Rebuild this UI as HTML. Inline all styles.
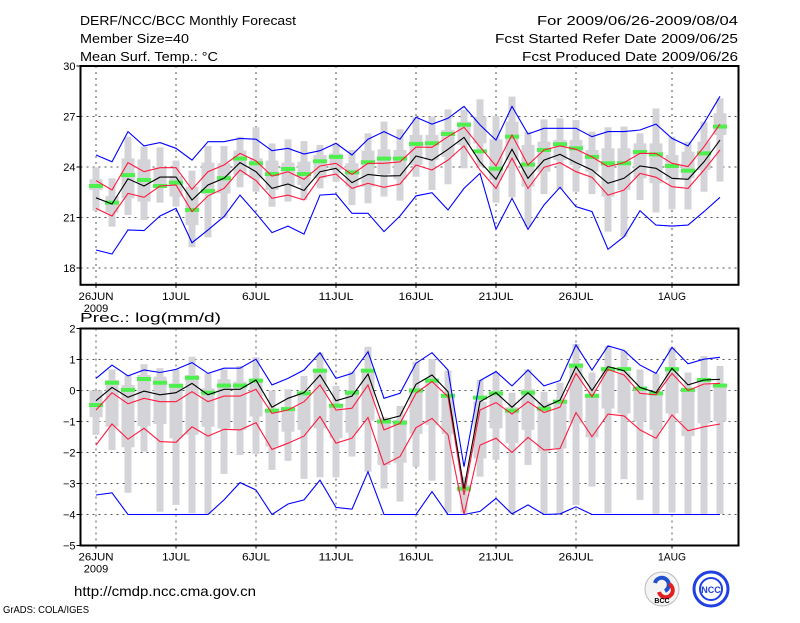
<!DOCTYPE html>
<html><head><meta charset="utf-8"><style>
html,body{margin:0;padding:0;background:#fff;}
svg text{font-family:"Liberation Sans",sans-serif;fill:#000;}
</style></head><body>
<svg id="chart" width="800" height="618" viewBox="0 0 800 618" xmlns="http://www.w3.org/2000/svg">
<rect width="800" height="618" fill="#fff"/>
<g font-size="13">
<text x="80" y="25" textLength="216" lengthAdjust="spacingAndGlyphs">DERF/NCC/BCC Monthly Forecast</text>
<text x="80" y="43" textLength="109" lengthAdjust="spacingAndGlyphs">Member Size=40</text>
<text x="80" y="61" textLength="138" lengthAdjust="spacingAndGlyphs">Mean Surf. Temp.: °C</text>
<text x="738" y="25" text-anchor="end" textLength="201" lengthAdjust="spacingAndGlyphs">For 2009/06/26-2009/08/04</text>
<text x="738" y="43" text-anchor="end" textLength="243" lengthAdjust="spacingAndGlyphs">Fcst Started Refer Date 2009/06/25</text>
<text x="738" y="61" text-anchor="end" textLength="216" lengthAdjust="spacingAndGlyphs">Fcst Produced Date 2009/06/26</text>
<text x="80" y="322" textLength="141" lengthAdjust="spacingAndGlyphs">Prec.: log(mm/d)</text>
<text x="74" y="596" font-size="14" textLength="182" lengthAdjust="spacingAndGlyphs">http://cmdp.ncc.cma.gov.cn</text>
<text x="3" y="613" font-size="10" textLength="86" lengthAdjust="spacingAndGlyphs">GrADS: COLA/IGES</text>
</g>
<g>
<circle cx="662" cy="589" r="17" fill="#f4f4f4" stroke="#bbb"/>
<path d="M655,583 a7,7 0 1 1 10,8" fill="none" stroke="#2050d0" stroke-width="4"/>
<path d="M669,584 a7,7 0 1 1 -10,8" fill="none" stroke="#e02020" stroke-width="4"/>
<text x="662" y="603" font-size="7" text-anchor="middle" font-weight="bold">BCC</text>
</g>
<g>
<circle cx="711" cy="589" r="17" fill="none" stroke="#2040e0" stroke-width="3"/>
<circle cx="711" cy="589" r="11" fill="none" stroke="#2040e0" stroke-width="2"/>
<text x="711" y="593" font-size="9" text-anchor="middle" font-weight="bold" style="fill:#2040e0">NCC</text>
</g>
<g id="plots"></g>
</svg>
<script>
// ---------- shared x data ----------
const dateLabels = ["26JUN","1JUL","6JUL","11JUL","16JUL","21JUL","26JUL","1AUG"];
const dateLabelDays = [0,5,10,15,20,25,30,36];

// ---------- temperature panel ----------
const tempTicks = [30,27,24,21,18];
const tempMean = [22.17,21.8,23.3,22.87,23.4,23.4,22.04,22.93,23.33,24.26,23.72,22.73,22.99,22.6,23.72,23.92,23.07,23.56,23.46,23.48,24.65,24.41,25.05,25.76,24.31,23.27,25.05,23.33,24.41,24.75,24.26,23.82,23.03,23.33,24.06,23.92,23.33,23.27,24.31,25.6];
const tempRedHi = [23.19,22.63,24.26,23.72,23.96,23.96,22.67,23.72,24.12,24.81,24.37,23.46,23.72,23.27,24.06,24.22,23.56,24.22,24.22,24.31,25.18,25.17,25.8,26.36,25.2,24.06,25.9,24.12,25.01,25.25,25.05,24.6,24.02,24.26,24.81,24.81,24.22,24.02,25.2,26.55];
const tempRedLo = [21.54,21.09,22.43,22.2,22.87,22.93,21.35,22.28,22.73,23.82,23.19,22.14,22.33,22.04,23.39,23.58,22.73,23.03,22.79,22.99,24.12,23.82,24.41,25.25,23.82,22.73,24.52,22.73,23.98,24.26,23.72,23.39,22.33,22.63,23.62,23.39,22.83,22.73,23.82,25.01];
const tempBlueHi = [24.71,24.31,26.1,25.25,25.45,25.11,24.41,25.5,25.5,25.7,25.65,24.97,25.11,24.77,24.97,25.41,24.71,25.65,26.1,25.65,26.95,26.55,26.89,27.6,26.5,25.6,27.6,25.96,26.3,26.3,26.3,25.8,26.1,26.1,26.2,26.55,25.7,25.25,26.6,28.2];
const tempBlueLo = [19.07,18.83,20.26,20.22,21.09,21.54,19.5,20.26,21.05,22.33,21.25,20.1,20.49,20.01,22.33,22.39,21.25,21.25,20.16,21.09,22.28,22.47,21.45,22.73,23.62,20.3,22.14,20.3,21.74,22.79,21.64,21.35,19.11,19.86,21.4,20.55,20.49,20.55,21.35,22.2];
const tempGreen = [22.87,21.88,23.52,23.23,22.87,23.07,21.45,22.57,23.33,24.5,24.22,23.58,23.88,23.58,24.34,24.6,23.68,24.28,24.5,24.5,25.37,25.41,25.96,26.51,24.93,23.9,25.8,24.14,25.01,25.35,25.11,24.6,24.22,24.22,24.89,24.75,24.06,23.78,24.81,26.4];
const tempWhiskHi = [23.98,23.33,25.8,25.21,25.17,24.38,23.78,25.25,25.25,25.8,26.36,25.4,25.64,25.54,25.31,25.4,25.01,26.0,26.69,26.24,26.95,26.99,27.42,27.39,28.02,27.03,28.18,26.1,26.83,26.89,26.79,26.1,26.36,26.4,26.0,27.48,25.8,25.5,26.69,28.08];
const tempBoxHi = [23.27,22.27,24.51,24.45,23.98,23.46,22.83,24.26,24.22,24.97,24.51,24.38,24.26,24.32,24.71,24.81,24.22,24.97,25.05,25.01,25.9,25.9,26.2,26.69,26.99,25.64,26.69,25.31,25.5,25.6,25.6,25.01,25.11,25.11,25.4,25.4,24.71,24.91,25.5,27.19];
const tempBoxLo = [22.63,21.29,22.14,21.94,22.93,22.24,20.55,22.39,22.43,23.52,23.33,22.63,22.87,22.93,23.33,23.82,22.83,22.83,23.58,23.27,24.12,24.41,24.61,25.31,25.4,23.23,24.41,22.83,23.72,24.41,24.12,23.72,22.24,22.63,23.33,23.03,23.23,23.33,23.82,25.9];
const tempWhiskLo = [21.4,20.45,21.15,20.85,21.88,21.64,19.23,19.82,20.95,22.79,22.53,21.64,21.94,22.04,22.73,23.13,21.74,21.84,22.24,22.0,23.42,22.63,22.97,23.92,24.02,21.88,22.2,20.45,22.39,22.67,22.53,22.39,20.16,19.86,22.04,21.29,21.48,21.48,22.53,23.13];

// ---------- precipitation panel ----------
const precTicks = [2,1,0,-1,-2,-3,-4,-5];
const precMean = [-0.33,0.10,-0.22,-0.02,-0.14,-0.07,0.23,-0.14,0.04,0.04,0.34,-0.54,-0.25,-0.07,0.5,-0.33,-0.18,0.53,-0.95,-0.82,0.2,0.5,-0.04,-3.16,-0.36,-0.07,-0.54,-0.07,-0.54,-0.31,0.77,0,0.77,0.64,0.1,-0.07,0.72,0.18,0.34,0.36];
const precRedHi = [-0.63,-0.07,-0.43,-0.25,-0.36,-0.36,-0.04,-0.36,-0.18,-0.18,0.04,-0.74,-0.63,-0.36,0.18,-0.63,-0.57,0.18,-1.27,-1.06,-0.09,0.29,-0.2,-3.37,-0.63,-0.39,-0.76,-0.36,-0.71,-0.54,0.55,-0.2,0.68,0.5,-0.09,-0.14,0.55,0,0.21,0.23];
const precRedLo = [-1.76,-1.08,-1.57,-1.22,-1.65,-1.67,-1.17,-1.47,-1.25,-1.27,-1.04,-1.9,-1.7,-1.47,-0.84,-1.7,-1.54,-0.87,-2.4,-2.13,-1.2,-0.9,-1.43,-4.0,-1.76,-1.54,-2.0,-1.51,-1.92,-1.87,-0.71,-1.49,-0.76,-0.82,-1.27,-1.54,-0.79,-1.3,-1.17,-1.08];
const precBlueHi = [0.39,0.82,0.47,0.66,0.58,0.68,0.9,0.55,0.72,0.72,1.01,0.18,0.39,0.66,1.22,0.39,0.55,1.25,-0.25,-0.09,0.88,1.22,0.66,-2.46,0.32,0.61,0.15,0.66,0.15,0.32,1.47,0.66,1.44,1.29,0.82,0.55,1.39,0.86,1.01,1.07];
const precBlueLo = [-3.37,-3.3,-4,-4,-4,-4,-4,-4,-3.53,-2.97,-3.21,-4,-3.66,-3.53,-2.89,-3.77,-3.83,-2.62,-4,-4,-4,-3.26,-4,-4,-3.9,-3.48,-3.98,-3.69,-4,-3.98,-3.75,-4,-4,-4,-4,-4,-4,-4,-4,-4];
const precGreen = [-0.47,0.25,0.02,0.37,0.25,0.15,0.41,-0.07,0.16,0.16,0.32,-0.65,-0.6,-0.09,0.64,-0.49,-0.07,0.64,-1.0,-1.04,0,0.32,-0.17,-3.17,-0.23,-0.09,-0.65,-0.07,-0.59,-0.36,0.8,-0.17,0.69,0.69,0.06,-0.09,0.69,0.02,0.34,0.16];
const precWhiskHi = [0,0.68,0.5,0.85,0.72,0.68,1.09,0.55,0.68,0.79,1.07,0,0.04,0.47,1.22,0.15,0.61,1.41,-0.86,-0.5,0.93,1.01,0.64,-2.78,0.34,0.58,-0.07,0.68,-0.04,0.25,1.5,0.58,1.44,1.29,0.68,0.55,1.39,0.58,1.11,0.79];
const precBoxHi = [0,0.34,0.18,0.5,0.45,0.23,0.5,0.07,0.36,0.29,0.32,-0.61,-0.54,-0.14,0.61,-0.47,-0.04,0.64,-1.0,-0.95,0.07,0.36,-0.2,-3.05,-0.36,-0.14,-0.54,0.04,-0.39,-0.36,0.88,-0.14,0.75,0.58,0.07,-0.14,0.66,-0.04,0.34,0.18];
const precBoxLo = [-0.86,-1.17,-1.83,-1.15,-1.08,-1.54,-1.43,-1.17,-1.22,-1.27,-0.84,-1.81,-1.33,-1.27,-1.22,-1.54,-1.36,-0.97,-2.4,-2.33,-1.4,-1.11,-1.4,-3.27,-2.19,-1.22,-1.7,-1.27,-1.97,-1.87,-1.06,-1.51,-0.58,-0.74,-1.0,-1.27,-0.74,-1.47,-1.06,-1.0];
const precWhiskLo = [-1.43,-1.92,-3.3,-1.97,-3.91,-3.69,-3.96,-4.0,-2.69,-2.08,-2.05,-2.56,-2.27,-2.85,-2.8,-2.8,-2.13,-2.62,-3.16,-3.58,-2.46,-2.91,-3.94,-3.94,-2.78,-2.24,-3.96,-2.4,-3.98,-3.98,-3.69,-3.1,-3.96,-2.86,-3.53,-3.98,-3.94,-3.98,-3.98,-3.98];

const NS = "http://www.w3.org/2000/svg";
const plots = document.getElementById('plots');
const X0 = 80.5, X1 = 738.5;
function xDay(i){ return 96 + 16*i; }
function mk(tag, attrs, parent){
  const e = document.createElementNS(NS, tag);
  for (const k in attrs) e.setAttribute(k, attrs[k]);
  parent.appendChild(e);
  return e;
}

function panel(cfg){
  const g = mk('g', {}, plots);
  
  
  const y = v => cfg.top + (cfg.vmax - v) * (cfg.bottom - cfg.top) / (cfg.vmax - cfg.vmin);
  const clipId = cfg.name + '-clip';
  const cp = mk('clipPath', {id: clipId}, g);
  mk('rect', {x: X0, y: cfg.top, width: X1 - X0, height: cfg.bottom - cfg.top}, cp);
  const inner = mk('g', {'clip-path': 'url(#' + clipId + ')'}, g);
  // grid
  cfg.ticks.forEach(t => {
    if (t === cfg.vmax || t === cfg.vmin) return;
    const l = mk('line', {x1: X0, x2: X1, y1: y(t), y2: y(t), stroke: '#555', 'stroke-width': 1, 'stroke-dasharray': '2,4'}, inner);
    
    
  });
  dateLabelDays.forEach(d => {
    const l = mk('line', {x1: xDay(d), x2: xDay(d), y1: cfg.top, y2: cfg.bottom, stroke: '#555', 'stroke-width': 1, 'stroke-dasharray': '2,4'}, inner);
    
    
  });
  // bars
  for (let i = 0; i < cfg.mean.length; i++) {
    const x = xDay(i);
    const w = mk('rect', {x: x - 3.5, width: 7, y: y(cfg.wHi[i]), height: Math.max(0, y(cfg.wLo[i]) - y(cfg.wHi[i])), fill: '#d4d4d8'}, inner);
    
    
    const b = mk('rect', {x: x - 6.5, width: 13, y: y(cfg.bHi[i]), height: Math.max(0, y(cfg.bLo[i]) - y(cfg.bHi[i])), fill: '#d4d4d8'}, inner);
    
    
  }
  for (let i = 0; i < cfg.green.length; i++) {
    const r = mk('rect', {x: xDay(i) - 7, width: 14, y: y(cfg.green[i]) - 2, height: 4, fill: '#4ef04e'}, inner);
    
    
  }
  const series = [[cfg.blueHi, '#0000ff', 'blue-max-line'], [cfg.blueLo, '#0000ff', 'blue-min-line'],
                  [cfg.redHi, '#ff1a40', 'red-upper-line'], [cfg.redLo, '#ff1a40', 'red-lower-line'],
                  [cfg.mean, '#000', 'ensemble-mean-line']];
  series.forEach(s => {
    const pts = s[0].map((v, i) => xDay(i) + ',' + y(v).toFixed(1)).join(' ');
    const p = mk('polyline', {points: pts, fill: 'none', stroke: s[1], 'stroke-width': 1.1}, inner);
    
    
  });
  // frame
  const f = mk('rect', {x: X0, y: cfg.top, width: X1 - X0, height: cfg.bottom - cfg.top, fill: 'none', stroke: '#000', 'stroke-width': 2}, g);
  
  
  // y ticks
  cfg.ticks.forEach(t => {
    if (y(t) > cfg.bottom + 1) return;
    mk('line', {x1: X0 - 4, x2: X0, y1: y(t), y2: y(t), stroke: '#000'}, g);
    const tx = mk('text', {x: X0 - 5, y: y(t) + 4, 'text-anchor': 'end', 'font-size': 11}, g);
    tx.textContent = String(t).replace('-', '\u2212');
    
    
  });
  // x labels
  dateLabels.forEach((lab, k) => {
    const x = xDay(dateLabelDays[k]);
    mk('line', {x1: x, x2: x, y1: cfg.bottom, y2: cfg.bottom + 3, stroke: '#000'}, g);
    const tx = mk('text', {x: x, y: cfg.bottom + 15, 'text-anchor': 'middle', 'font-size': 11, textLength: lab.length * 7, lengthAdjust: 'spacingAndGlyphs'}, g);
    tx.textContent = lab;
    
    
  });
  const yr = mk('text', {x: 96, y: cfg.bottom + 27, 'text-anchor': 'middle', 'font-size': 11}, g);
  yr.textContent = '2009';
  
  
}

panel({name: 'temperature-panel', top: 66, bottom: 284.8, vmax: 30, vmin: 17, ticks: tempTicks,
  mean: tempMean, redHi: tempRedHi, redLo: tempRedLo, blueHi: tempBlueHi, blueLo: tempBlueLo, green: tempGreen,
  wHi: tempWhiskHi, bHi: tempBoxHi, bLo: tempBoxLo, wLo: tempWhiskLo});
panel({name: 'precipitation-panel', top: 328.5, bottom: 545.5, vmax: 2, vmin: -5, ticks: precTicks,
  mean: precMean, redHi: precRedHi, redLo: precRedLo, blueHi: precBlueHi, blueLo: precBlueLo, green: precGreen,
  wHi: precWhiskHi, bHi: precBoxHi, bLo: precBoxLo, wLo: precWhiskLo});
</script>
</body></html>
